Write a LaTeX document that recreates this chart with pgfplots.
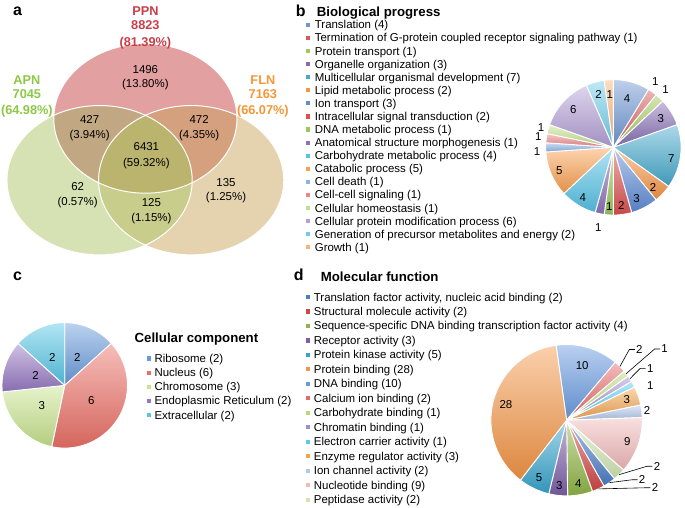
\documentclass[border=0pt]{standalone}
\usepackage{pgfplots}
\pgfplotsset{compat=1.18}
\usepackage{pgfplotstable}
\usepackage{fontspec}
\setmainfont{Liberation Sans}

% Venn colours
\definecolor{vP}{RGB}{226,160,160}
\definecolor{vA}{RGB}{214,226,180}
\definecolor{vF}{RGB}{229,211,176}
\definecolor{vPA}{RGB}{194,168,130}
\definecolor{vPF}{RGB}{212,160,125}
\definecolor{vAF}{RGB}{200,205,140}
\definecolor{vPAF}{RGB}{186,180,110}
\definecolor{vRed}{RGB}{200,62,72}
\definecolor{vGreen}{RGB}{140,200,70}
\definecolor{vOrange}{RGB}{245,150,55}
% pie b
\definecolor{cb1}{RGB}{110,150,210}
\definecolor{cb2}{RGB}{215,90,90}
\definecolor{cb3}{RGB}{160,200,90}
\definecolor{cb4}{RGB}{135,110,180}
\definecolor{cb5}{RGB}{70,170,205}
\definecolor{cb6}{RGB}{245,150,70}
\definecolor{cb7}{RGB}{95,140,215}
\definecolor{cb8}{RGB}{220,80,80}
\definecolor{cb9}{RGB}{155,200,90}
\definecolor{cb10}{RGB}{140,115,185}
\definecolor{cb11}{RGB}{85,195,230}
\definecolor{cb12}{RGB}{250,160,80}
\definecolor{cb13}{RGB}{140,180,230}
\definecolor{cb14}{RGB}{235,135,135}
\definecolor{cb15}{RGB}{195,225,140}
\definecolor{cb16}{RGB}{180,160,215}
\definecolor{cb17}{RGB}{110,205,235}
\definecolor{cb18}{RGB}{250,180,120}
% pie c
\definecolor{cc1}{RGB}{105,155,220}
\definecolor{cc2}{RGB}{235,110,100}
\definecolor{cc3}{RGB}{200,228,140}
\definecolor{cc4}{RGB}{150,120,195}
\definecolor{cc5}{RGB}{85,198,230}
% pie d
\definecolor{cdDNA}{RGB}{105,155,225}
\definecolor{cdCal}{RGB}{230,105,105}
\definecolor{cdCarb}{RGB}{185,218,115}
\definecolor{cdChrom}{RGB}{165,140,210}
\definecolor{cdElec}{RGB}{85,205,235}
\definecolor{cdEnz}{RGB}{245,165,80}
\definecolor{cdIon}{RGB}{180,200,235}
\definecolor{cdNuc}{RGB}{242,185,185}
\definecolor{cdPep}{RGB}{210,230,180}
\definecolor{cdTrans}{RGB}{75,125,200}
\definecolor{cdStruct}{RGB}{210,70,70}
\definecolor{cdSeq}{RGB}{145,182,70}
\definecolor{cdRec}{RGB}{125,95,168}
\definecolor{cdKin}{RGB}{55,165,205}
\definecolor{cdProt}{RGB}{245,150,70}

\newcommand\lab{\fontsize{11.5}{13}\selectfont}
\newcommand\leg{\fontsize{11.5}{13}\selectfont}
\newcommand\ttl{\fontsize{13.3}{15}\selectfont\bfseries}
\newcommand\pnl{\fontsize{16}{18}\selectfont\bfseries}
\newcommand\vbold{\fontsize{12.8}{15}\selectfont\bfseries}

% ---------- data ----------
% Biological process (clockwise from 12 o'clock)
\pgfplotstableread{
val lr   ladj lead col
4   0.75 0    0    cb1
1   1.15 2.7  0    cb2
1   1.15 1    0    cb3
3   0.82 0    0    cb4
7   0.87 -3   0    cb5
2   0.83 -2   0    cb6
3   0.83 -3   0    cb7
2   0.87 0    0    cb8
1   0.87 0    0    cb9
1   1.20 1    0    cb10
4   0.87 0    0    cb11
5   0.87 0    0    cb12
1   1.13 3    0    cb13
1   1.12 0    0    cb14
1   1.11 0    0    cb15
6   0.81 0    0    cb16
2   0.81 0    0    cb17
1   0.78 0    0    cb18
}\pieB
% Cellular component
\pgfplotstableread{
val lr   ladj lead col
2   0.49 0    0    cc1
6   0.49 0    0    cc2
3   0.49 0    0    cc3
2   0.49 0    0    cc4
2   0.49 0    0    cc5
}\pieC
% Molecular function (clockwise from the first slice)
\pgfplotstableread{
val lr   ladj  lead col
10  0.75 0     0    cdDNA
2   1.34 -1    1    cdCal
1   1.60 -2    1    cdCarb
1   1.30 -1.4  1    cdChrom
1   1.20 -5.8  0    cdElec
3   0.84 0     0    cdEnz
2   1.07 0     0    cdIon
9   0.85 0     0    cdNuc
2   1.34 19    1    cdPep
2   1.27 17.3  1    cdTrans
2   1.47 27.8  1    cdStruct
4   0.85 0     0    cdSeq
3   0.87 0     0    cdRec
5   0.84 0     0    cdKin
28  0.83 0     0    cdProt
}\pieD

% #1 table, #2 cx, #3 cy (downwards), #4 radius, #5 start angle
\newcommand\drawpie[5]{%
  \pgfplotstablegetrowsof{#1}%
  \pgfmathtruncatemacro\pielast{\pgfplotsretval-1}%
  \def\pietot{0}%
  \pgfplotsforeachungrouped \pieidx in {0,...,\pielast}{%
    \pgfplotstablegetelem{\pieidx}{val}\of{#1}%
    \pgfmathsetmacro\pietot{\pietot+\pgfplotsretval}}%
  \def\piecur{#5}%
  \pgfplotsforeachungrouped \pieidx in {0,...,\pielast}{%
    \pgfplotstablegetelem{\pieidx}{val}\of{#1}\let\pieval\pgfplotsretval
    \pgfplotstablegetelem{\pieidx}{col}\of{#1}\let\piecol\pgfplotsretval
    \pgfmathsetmacro\pieend{\piecur-360*\pieval/\pietot}%
    \path[top color=\piecol!45!white,bottom color=\piecol!90!black,draw=white,line width=0.9pt,line join=round]
      (axis cs:#2,-#3) -- ++(\piecur:#4pt)
      arc[start angle=\piecur,end angle=\pieend,radius=#4pt] -- cycle;
    \let\piecur\pieend}%
  \def\piecur{#5}%
  \pgfplotsforeachungrouped \pieidx in {0,...,\pielast}{%
    \pgfplotstablegetelem{\pieidx}{val}\of{#1}\let\pieval\pgfplotsretval
    \pgfplotstablegetelem{\pieidx}{lr}\of{#1}\let\pielr\pgfplotsretval
    \pgfplotstablegetelem{\pieidx}{ladj}\of{#1}\let\pieladj\pgfplotsretval
    \pgfplotstablegetelem{\pieidx}{lead}\of{#1}\let\pielead\pgfplotsretval
    \pgfmathsetmacro\pieend{\piecur-360*\pieval/\pietot}%
    \pgfmathsetmacro\piemid{(\piecur+\pieend)/2}%
    \pgfmathsetmacro\pieang{\piemid+\pieladj}%
    \pgfmathsetmacro\pierad{\pielr*#4}%
    \path (axis cs:#2,-#3) ++(\pieang:\pierad pt) node[font=\lab,inner sep=0pt] (pieL) {\pieval};
    \ifnum\pielead=1
      \draw[line width=0.6pt] (axis cs:#2,-#3) ++(\piemid:#4pt) -- ([xshift=-10pt]pieL.center) -- ([xshift=-4.5pt]pieL.center);
    \fi
    \let\piecur\pieend}%
}

% legend helpers (pixel coordinates, y downwards)
\newcommand\legsetup[4]{\def\legmx{#1}\def\legtx{#2}\def\legy{#3}\def\legdy{#4}}
\newcommand\legitem[2]{%
  \fill[#1] (axis cs:{\legmx-2.1},{-\legy+4-2.1}) rectangle (axis cs:{\legmx+2.1},{-\legy+4+2.1});
  \node[anchor=base west,inner sep=0pt,font=\leg] at (axis cs:\legtx,-\legy) {#2};
  \pgfmathsetmacro\legy{\legy+\legdy}}

\newcommand\vt[3]{\node[anchor=base,inner sep=0pt,font=\lab] at (axis cs:#1,{-(#2)-4.1}) {#3};}
\newcommand\vb[4]{\node[anchor=base,inner sep=0pt,font=\vbold,text=#4] at (axis cs:#1,{-(#2)-4.6}) {#3};}
\newcommand\ePPN{(axis cs:146,-119) ellipse [x radius=92pt, y radius=75pt]}
\newcommand\eAPN{(axis cs:100,-181) ellipse [x radius=93pt, y radius=75pt]}
\newcommand\eFLN{(axis cs:192,-181) ellipse [x radius=93pt, y radius=75pt]}

\pgfplotsset{panel/.style={x=1pt,y=1pt,xmin=0,xmax=685,ymin=-510,ymax=0,
  hide axis,clip=false,scale only axis,at={(0pt,0pt)},anchor=north west}}

\begin{document}
\begin{tikzpicture}
% ---------------- a: Venn ----------------
\begin{axis}[panel]
\pgfplotsextra{%
  \path (axis cs:0,0) (axis cs:685,-510);
  \fill[vP] \ePPN; \fill[vA] \eAPN; \fill[vF] \eFLN;
  \begin{scope}\clip \ePPN; \fill[vPA] \eAPN; \fill[vPF] \eFLN; \end{scope}
  \begin{scope}\clip \eAPN; \fill[vAF] \eFLN; \end{scope}
  \begin{scope}\clip \ePPN; \clip \eAPN; \fill[vPAF] \eFLN; \end{scope}
  \draw[white,line width=1pt] \ePPN; \draw[white,line width=1pt] \eAPN; \draw[white,line width=1pt] \eFLN;
  \node[anchor=base west,inner sep=0pt,font=\pnl] at (axis cs:13,-16) {a};
  \vb{146}{10.7}{PPN}{vRed}\vb{146}{25.5}{8823}{vRed}\vb{146}{41.7}{(81.39\%)}{vRed}
  \vb{27}{80}{APN}{vGreen}\vb{27}{94.5}{7045}{vGreen}\vb{27}{110}{(64.98\%)}{vGreen}
  \vb{264}{80}{FLN}{vOrange}\vb{264}{94.5}{7163}{vOrange}\vb{264}{110}{(66.07\%)}{vOrange}
  \vt{146}{70}{1496}\vt{146}{84}{(13.80\%)}
  \vt{90}{120}{427}\vt{90}{135}{(3.94\%)}
  \vt{200}{120}{472}\vt{200}{135}{(4.35\%)}
  \vt{147}{147}{6431}\vt{147}{163}{(59.32\%)}
  \vt{78}{187}{62}\vt{78}{202}{(0.57\%)}
  \vt{152}{203}{125}\vt{152}{218}{(1.15\%)}
  \vt{227}{183}{135}\vt{227}{197}{(1.25\%)}
}
\end{axis}
% ---------------- b: Biological process ----------------
\begin{axis}[panel]
\pgfplotsextra{%
  \node[anchor=base west,inner sep=0pt,font=\pnl] at (axis cs:297,-16.5) {b};
  \node[anchor=base west,inner sep=0pt,font=\ttl] at (axis cs:318,-16.8) {Biological progress};
  \drawpie{\pieB}{616}{148}{68}{90}
  \legsetup{309}{316}{29}{13.14}
  \legitem{cb1}{Translation (4)}
  \legitem{cb2}{Termination of G-protein coupled receptor signaling pathway (1)}
  \legitem{cb3}{Protein transport (1)}
  \legitem{cb4}{Organelle organization (3)}
  \legitem{cb5}{Multicellular organismal development (7)}
  \legitem{cb6}{Lipid metabolic process (2)}
  \legitem{cb7}{Ion transport (3)}
  \legitem{cb8}{Intracellular signal transduction (2)}
  \legitem{cb9}{DNA metabolic process (1)}
  \legitem{cb10}{Anatomical structure morphogenesis (1)}
  \legitem{cb11}{Carbohydrate metabolic process (4)}
  \legitem{cb12}{Catabolic process (5)}
  \legitem{cb13}{Cell death (1)}
  \legitem{cb14}{Cell-cell signaling (1)}
  \legitem{cb15}{Cellular homeostasis (1)}
  \legitem{cb16}{Cellular protein modification process (6)}
  \legitem{cb17}{Generation of precursor metabolites and energy (2)}
  \legitem{cb18}{Growth (1)}
}
\end{axis}
% ---------------- c: Cellular component ----------------
\begin{axis}[panel]
\pgfplotsextra{%
  \node[anchor=base west,inner sep=0pt,font=\pnl] at (axis cs:13,-281.7) {c};
  \drawpie{\pieC}{65}{387}{63}{90}
  \node[anchor=base west,inner sep=0pt,font=\ttl] at (axis cs:135,-343.5) {Cellular component};
  \legsetup{149.5}{155}{364}{14.2}
  \legitem{cc1}{Ribosome (2)}
  \legitem{cc2}{Nucleus (6)}
  \legitem{cc3}{Chromosome (3)}
  \legitem{cc4}{Endoplasmic Reticulum (2)}
  \legitem{cc5}{Extracellular (2)}
}
\end{axis}
% ---------------- d: Molecular function ----------------
\begin{axis}[panel]
\pgfplotsextra{%
  \node[anchor=base west,inner sep=0pt,font=\pnl] at (axis cs:295,-281.7) {d};
  \node[anchor=base west,inner sep=0pt,font=\ttl] at (axis cs:322,-282.2) {Molecular function};
  \drawpie{\pieD}{569}{422}{76}{98}
  \legsetup{309}{315}{302.3}{14.53}
  \legitem{cdTrans}{Translation factor activity, nucleic acid binding (2)}
  \legitem{cdStruct}{Structural molecule activity (2)}
  \legitem{cdSeq}{Sequence-specific DNA binding transcription factor activity (4)}
  \legitem{cdRec}{Receptor activity (3)}
  \legitem{cdKin}{Protein kinase activity (5)}
  \legitem{cdProt}{Protein binding (28)}
  \legitem{cdDNA}{DNA binding (10)}
  \legitem{cdCal}{Calcium ion binding (2)}
  \legitem{cdCarb}{Carbohydrate binding (1)}
  \legitem{cdChrom}{Chromatin binding (1)}
  \legitem{cdElec}{Electron carrier activity (1)}
  \legitem{cdEnz}{Enzyme regulator activity (3)}
  \legitem{cdIon}{Ion channel activity (2)}
  \legitem{cdNuc}{Nucleotide binding (9)}
  \legitem{cdPep}{Peptidase activity (2)}
}
\end{axis}
\end{tikzpicture}
\end{document}
